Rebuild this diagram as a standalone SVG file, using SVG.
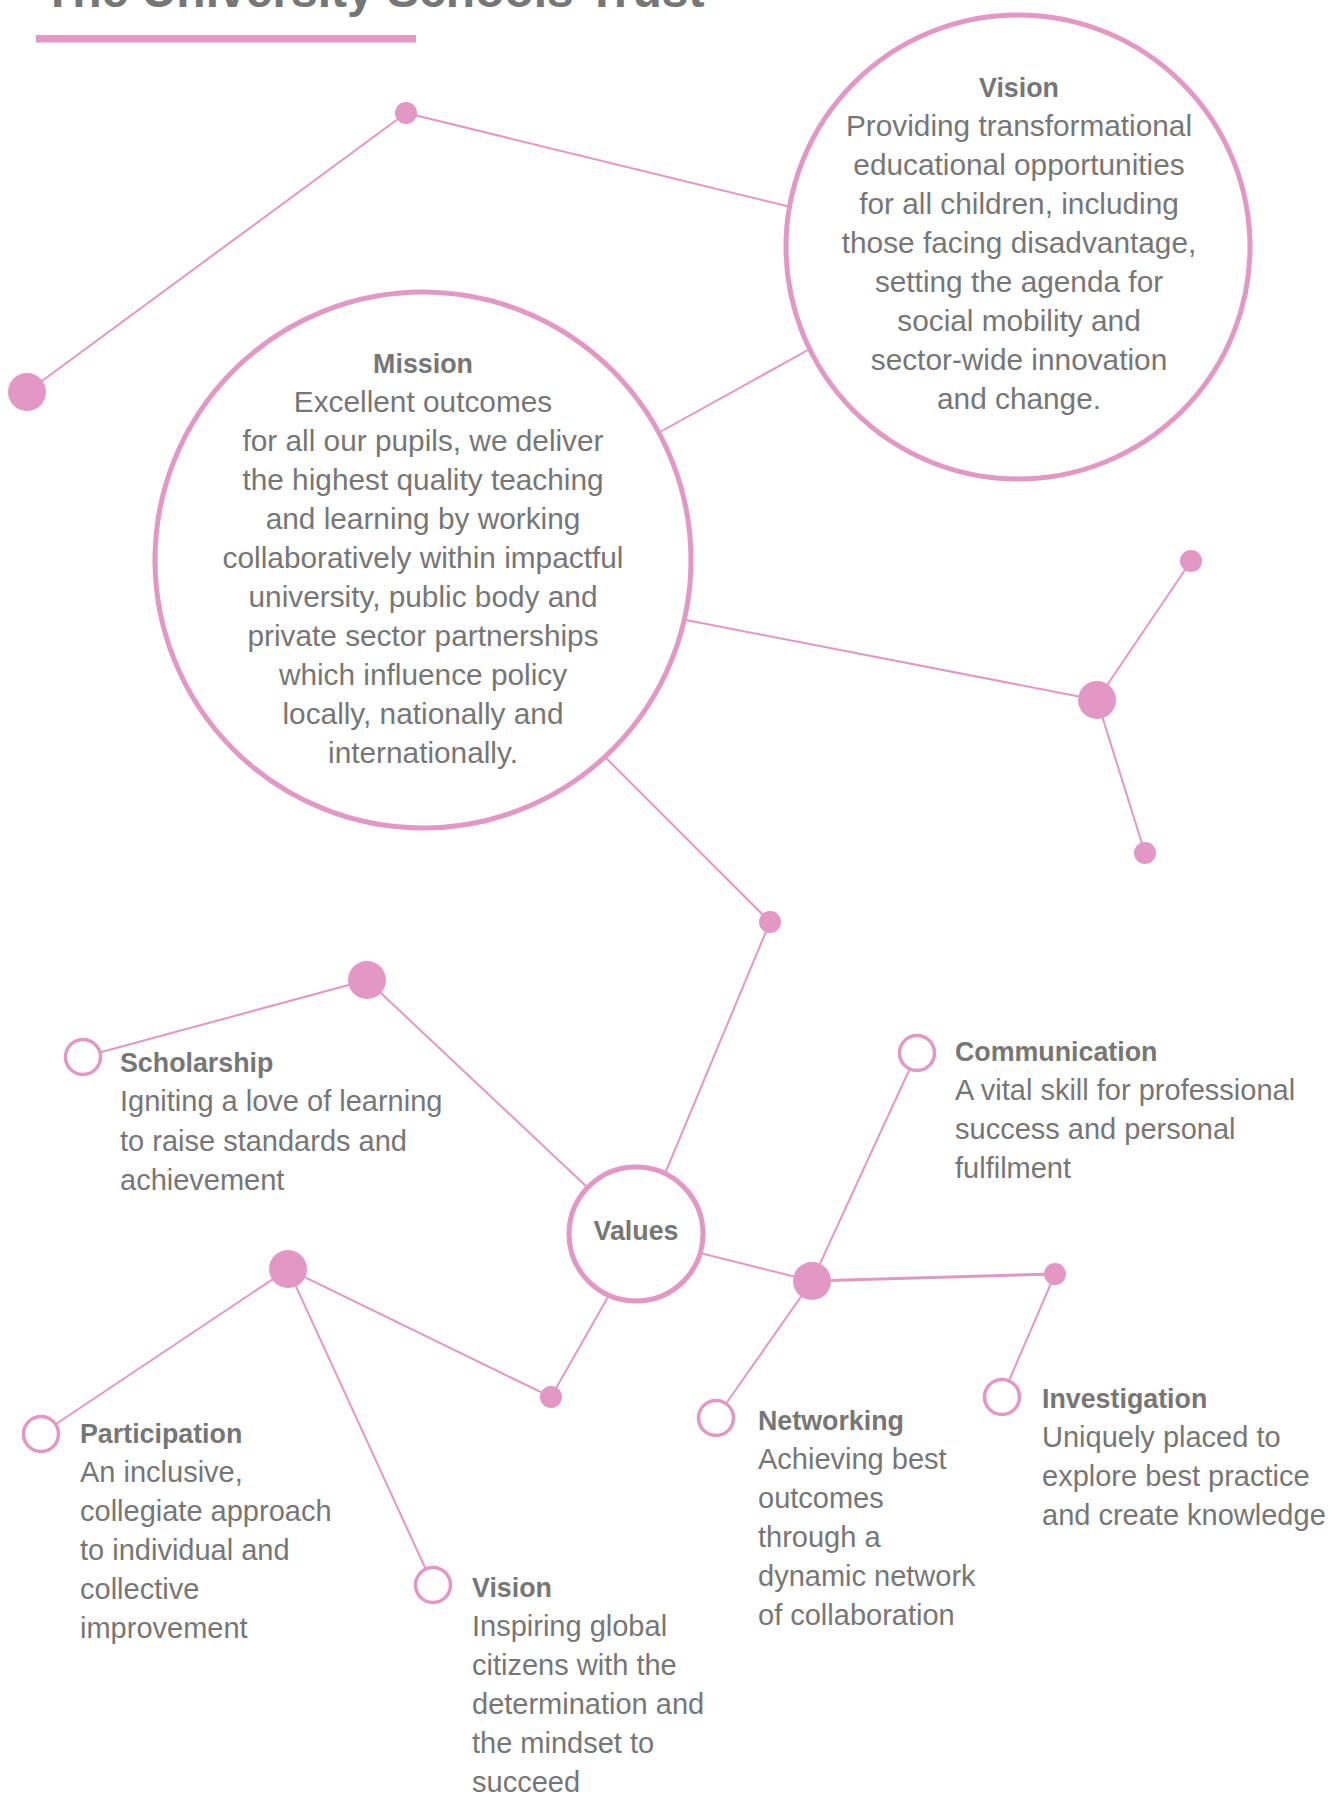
<svg xmlns="http://www.w3.org/2000/svg" width="1340" height="1795" viewBox="0 0 1340 1795">
<style>
  .bg { fill: #ffffff; }
  .ln { stroke: #E397C4; stroke-width: 2; fill: none; }
  .lnb { stroke: #E397C4; stroke-width: 3; fill: none; }
  .dot { fill: #E397C4; }
  .big { fill: #ffffff; stroke: #E397C4; stroke-width: 5; }
  .ring { fill: #ffffff; stroke: #E397C4; stroke-width: 3.5; }
  .t { font-family: "Liberation Sans", Arial, sans-serif; fill: #767676; font-size: 29px; }
  .tc { font-family: "Liberation Sans", Arial, sans-serif; fill: #767676; font-size: 29.8px; text-anchor: middle; }
  .h { font-family: "Liberation Sans", Arial, sans-serif; fill: #767676; font-size: 26.8px; font-weight: bold; }
  .hc { font-family: "Liberation Sans", Arial, sans-serif; fill: #767676; font-size: 26.8px; font-weight: bold; text-anchor: middle; }
</style>
<rect class="bg" x="0" y="0" width="1340" height="1795"/>

<g id="title">
  <text x="43" y="7" font-family="Liberation Sans, Arial, sans-serif" font-size="48" font-weight="bold" fill="#767676">The University Schools Trust</text>
  <rect x="36" y="35" width="380" height="7.5" fill="#E397C4"/>
</g>

<g id="connectors">
  <line class="ln" x1="27" y1="392" x2="406" y2="113"/>
  <line class="ln" x1="406" y1="113" x2="795" y2="208"/>
  <line class="ln" x1="660" y1="432" x2="808" y2="350"/>
  <line class="ln" x1="686" y1="620" x2="1097" y2="700"/>
  <line class="ln" x1="1097" y1="700" x2="1191" y2="561"/>
  <line class="ln" x1="1097" y1="700" x2="1145" y2="853"/>
  <line class="ln" x1="606" y1="758" x2="770" y2="922"/>
  <line class="ln" x1="770" y1="922" x2="664" y2="1176"/>
  <line class="ln" x1="367" y1="980" x2="83" y2="1057"/>
  <line class="ln" x1="367" y1="980" x2="588" y2="1188"/>
  <line class="ln" x1="608" y1="1297" x2="551" y2="1397"/>
  <line class="ln" x1="551" y1="1397" x2="288" y2="1269"/>
  <line class="ln" x1="288" y1="1269" x2="41" y2="1434"/>
  <line class="ln" x1="288" y1="1269" x2="433" y2="1585"/>
  <line class="ln" x1="700" y1="1253" x2="812" y2="1281"/>
  <line class="ln" x1="812" y1="1281" x2="917" y2="1053"/>
  <line class="lnb" x1="812" y1="1281" x2="1055" y2="1274"/>
  <line class="ln" x1="1055" y1="1274" x2="1002" y2="1397"/>
  <line class="ln" x1="812" y1="1281" x2="716" y2="1418"/>
</g>

<g id="dots">
  <circle class="dot" cx="27" cy="392" r="19"/>
  <circle class="dot" cx="406" cy="113" r="11"/>
  <circle class="dot" cx="1097" cy="700" r="19"/>
  <circle class="dot" cx="1191" cy="561" r="11"/>
  <circle class="dot" cx="1145" cy="853" r="11"/>
  <circle class="dot" cx="770" cy="922" r="11"/>
  <circle class="dot" cx="367" cy="980" r="19"/>
  <circle class="dot" cx="288" cy="1269" r="19"/>
  <circle class="dot" cx="551" cy="1397" r="11"/>
  <circle class="dot" cx="812" cy="1281" r="19"/>
  <circle class="dot" cx="1055" cy="1274" r="11"/>
</g>

<g id="vision-main">
  <circle class="big" cx="1018" cy="247" r="232"/>
  <text class="hc" x="1019" y="97">Vision</text>
  <text class="tc" x="1019" y="136">Providing transformational</text>
  <text class="tc" x="1019" y="175">educational opportunities</text>
  <text class="tc" x="1019" y="214">for all children, including</text>
  <text class="tc" x="1019" y="253">those facing disadvantage,</text>
  <text class="tc" x="1019" y="292">setting the agenda for</text>
  <text class="tc" x="1019" y="331">social mobility and</text>
  <text class="tc" x="1019" y="370">sector-wide innovation</text>
  <text class="tc" x="1019" y="409">and change.</text>
</g>

<g id="mission">
  <circle class="big" cx="423" cy="560" r="268"/>
  <text class="hc" x="423" y="373">Mission</text>
  <text class="tc" x="423" y="412">Excellent outcomes</text>
  <text class="tc" x="423" y="451">for all our pupils, we deliver</text>
  <text class="tc" x="423" y="490">the highest quality teaching</text>
  <text class="tc" x="423" y="529">and learning by working</text>
  <text class="tc" x="423" y="568">collaboratively within impactful</text>
  <text class="tc" x="423" y="607">university, public body and</text>
  <text class="tc" x="423" y="646">private sector partnerships</text>
  <text class="tc" x="423" y="685">which influence policy</text>
  <text class="tc" x="423" y="724">locally, nationally and</text>
  <text class="tc" x="423" y="763">internationally.</text>
</g>

<g id="values">
  <circle class="big" cx="636" cy="1234" r="67"/>
  <text class="hc" x="636" y="1240">Values</text>
</g>

<g id="scholarship">
  <circle class="ring" cx="83" cy="1057" r="17.5"/>
  <text class="h" x="120" y="1072">Scholarship</text>
  <text class="t" x="120" y="1111">Igniting a love of learning</text>
  <text class="t" x="120" y="1151">to raise standards and</text>
  <text class="t" x="120" y="1190">achievement</text>
</g>

<g id="communication">
  <circle class="ring" cx="917" cy="1053" r="17.5"/>
  <text class="h" x="955" y="1061">Communication</text>
  <text class="t" x="955" y="1100">A vital skill for professional</text>
  <text class="t" x="955" y="1139">success and personal</text>
  <text class="t" x="955" y="1178">fulfilment</text>
</g>

<g id="participation">
  <circle class="ring" cx="41" cy="1434" r="17.5"/>
  <text class="h" x="80" y="1443">Participation</text>
  <text class="t" x="80" y="1482">An inclusive,</text>
  <text class="t" x="80" y="1521">collegiate approach</text>
  <text class="t" x="80" y="1560">to individual and</text>
  <text class="t" x="80" y="1599">collective</text>
  <text class="t" x="80" y="1638">improvement</text>
</g>

<g id="vision-value">
  <circle class="ring" cx="433" cy="1585" r="17.5"/>
  <text class="h" x="472" y="1597">Vision</text>
  <text class="t" x="472" y="1636">Inspiring global</text>
  <text class="t" x="472" y="1675">citizens with the</text>
  <text class="t" x="472" y="1714">determination and</text>
  <text class="t" x="472" y="1753">the mindset to</text>
  <text class="t" x="472" y="1792">succeed</text>
</g>

<g id="networking">
  <circle class="ring" cx="716" cy="1418" r="17.5"/>
  <text class="h" x="758" y="1430">Networking</text>
  <text class="t" x="758" y="1469">Achieving best</text>
  <text class="t" x="758" y="1508">outcomes</text>
  <text class="t" x="758" y="1547">through a</text>
  <text class="t" x="758" y="1586">dynamic network</text>
  <text class="t" x="758" y="1625">of collaboration</text>
</g>

<g id="investigation">
  <circle class="ring" cx="1002" cy="1397" r="17.5"/>
  <text class="h" x="1042" y="1408">Investigation</text>
  <text class="t" x="1042" y="1447">Uniquely placed to</text>
  <text class="t" x="1042" y="1486">explore best practice</text>
  <text class="t" x="1042" y="1525">and create knowledge</text>
</g>
</svg>
